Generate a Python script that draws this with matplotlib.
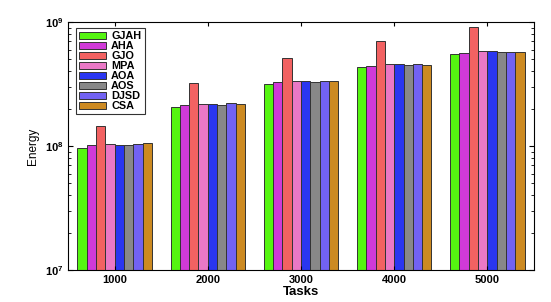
import numpy as np
import matplotlib.pyplot as plt

plt.rcParams['font.family'] = 'Liberation Sans'

tasks = ['1000', '2000', '3000', '4000', '5000']
methods = ['GJAH', 'AHA', 'GJO', 'MPA', 'AOA', 'AOS', 'DJSD', 'CSA']
colors = ['#55f511', '#d03ad8', '#f26262', '#ea78c6', '#2a36f0', '#888888', '#7262f2', '#cc8a22']

energy = {
    'GJAH': [0.97e8, 2.05e8, 3.16e8, 4.31e8, 5.48e8],
    'AHA':  [1.02e8, 2.13e8, 3.28e8, 4.40e8, 5.59e8],
    'GJO':  [1.45e8, 3.22e8, 5.15e8, 7.07e8, 9.06e8],
    'MPA':  [1.03e8, 2.18e8, 3.36e8, 4.56e8, 5.80e8],
    'AOA':  [1.02e8, 2.18e8, 3.37e8, 4.56e8, 5.80e8],
    'AOS':  [1.02e8, 2.14e8, 3.30e8, 4.48e8, 5.73e8],
    'DJSD': [1.04e8, 2.21e8, 3.37e8, 4.56e8, 5.73e8],
    'CSA':  [1.05e8, 2.19e8, 3.32e8, 4.48e8, 5.70e8],
}

fig = plt.figure(figsize=(5.51, 3.02), dpi=100)
ax = fig.add_axes([68/551, 32/302, 466/551, 248/302])

x = np.arange(1, len(tasks) + 1)
w = 0.1
for i, m in enumerate(methods):
    ax.bar(x - 0.35 + i * w, energy[m], width=w, color=colors[i],
           edgecolor='#333333', linewidth=0.7, label=m)

ax.set_yscale('log')
ax.set_ylim(1e7, 1e9)
ax.set_xlim(0.5, 5.5)
ax.set_xticks(x)
ax.set_xticklabels(tasks, fontweight='bold', fontsize=8)
for t in ax.get_yticklabels():
    t.set_fontweight('bold')
ax.tick_params(axis='y', labelsize=8)
ax.tick_params(direction='in', top=True, right=True, which='both')
ax.tick_params(axis='x', length=3)
ax.set_xlabel('Tasks', fontweight='bold', fontsize=9.5, labelpad=1)
ax.set_ylabel('Energy', fontsize=8.5)

leg = ax.legend(loc='upper left', prop={'weight': 'bold', 'size': 7.8},
                fancybox=False, edgecolor='black', handlelength=2.5, handleheight=0.72,
                labelspacing=0.0, borderpad=0.3, handletextpad=0.45, borderaxespad=0,
                bbox_to_anchor=(0.017, 0.976))
leg.get_frame().set_linewidth(0.8)

fig.savefig('out.png', dpi=100)
